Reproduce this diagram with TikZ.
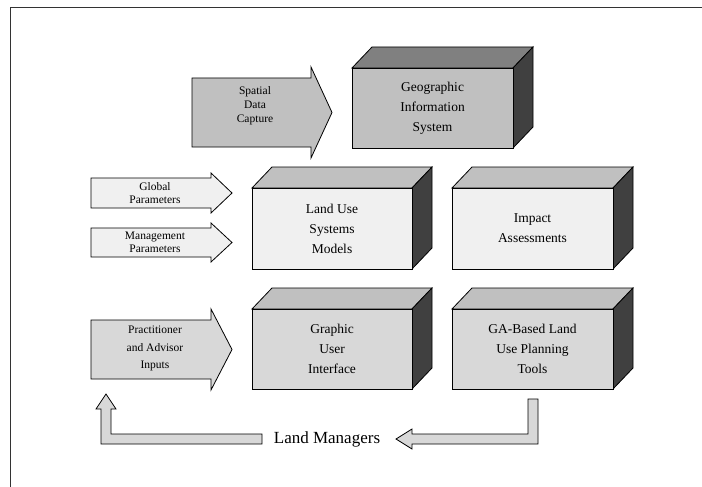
\documentclass[tikz,border=0pt]{standalone}
\usepackage{fontspec}
\setmainfont{Liberation Serif}
\definecolor{gA}{HTML}{C0C0C0}
\definecolor{gB}{HTML}{808080}
\definecolor{gC}{HTML}{404040}
\definecolor{gL}{HTML}{F0F0F0}
\definecolor{gM}{HTML}{D8D8D8}
\tikzset{
  outl/.style={draw=black, line width=0.8pt, line join=miter},
  boxtext/.style={align=center, font=\fontsize{13.5}{20}\selectfont, inner sep=0pt},
  arrtext/.style={align=center, font=\fontsize{11.5}{13.5}\selectfont, inner sep=0pt},
}
% cube: name, x1, y1, x2, y2, front, top, text
\newcommand\mycube[8]{%
  \path[outl, fill=#7] (#2,#3) -- (#2+20,#3-21) -- (#4+20,#3-21) -- (#4,#3) -- cycle;
  \path[outl, fill=gC] (#4,#3) -- (#4+20,#3-21) -- (#4+20,#5-21) -- (#4,#5) -- cycle;
  \path[outl, fill=#6] (#2,#3) rectangle (#4,#5);
  \node[boxtext] (#1) at ({(#2+#4)/2},{(#3+#5)/2}) {#8};
}
% block arrow shape: x0, ytop, ybot, xshaft, xtip, headextra, fill
\newcommand\myarrow[7]{%
  \path[outl, fill=#7] (#1,#2) -- (#4,#2) -- (#4,#2-#6) -- (#5,{(#2+#3)/2}) -- (#4,#3+#6) -- (#4,#3) -- (#1,#3) -- cycle;
}
\begin{document}
\begin{tikzpicture}[x=1pt,y=-1pt]
\useasboundingbox (0,0) rectangle (702,487);
\fill[white] (0,0) rectangle (702,487);
\draw[line width=1pt, black!80] (10,520) -- (10,8) -- (720,8);

\mycube{gis}{352}{68}{513}{148}{gA}{gB}{Geographic\\Information\\System}
\mycube{lus}{252}{188}{412}{269}{gL}{gA}{Land Use\\Systems\\Models}
\mycube{ia}{452}{188}{613}{269}{gL}{gA}{Impact\\Assessments}
\mycube{gui}{252}{309}{412}{389}{gM}{gA}{Graphic\\User\\Interface}
\mycube{ga}{452}{309}{613}{389}{gM}{gA}{GA-Based Land\\Use Planning\\Tools}

\myarrow{192}{78}{147}{311}{332}{11}{gA}
\node[arrtext, font=\fontsize{11.5}{14}\selectfont] (sdc) at (255,106) {Spatial\\Data\\Capture};
\myarrow{91}{178}{208}{211}{232}{5}{gL}
\node[arrtext] (gp) at (155,193) {Global\\Parameters};
\myarrow{91}{228}{257}{211}{232}{5}{gL}
\node[arrtext] (mp) at (155,242.5) {Management\\Parameters};
\myarrow{91}{320}{379}{211}{232}{11}{gM}
\node[arrtext, font=\fontsize{11.5}{17.5}\selectfont] (pai) at (155,348.5) {Practitioner\\and Advisor\\Inputs};

\node[font=\fontsize{17}{20}\selectfont, inner sep=0pt, anchor=base] (lm) at (327,443) {Land Managers};
\path[outl, fill=gM] (101,444) -- (101,409) -- (96,409) -- (106,394) -- (116,409) -- (111,409) -- (111,434) -- (262,434) -- (262,444) -- cycle;
\path[outl, fill=gM] (538,399) -- (538,444) -- (412,444) -- (412,449) -- (396,439) -- (412,429) -- (412,434) -- (528,434) -- (528,399) -- cycle;
\end{tikzpicture}
\end{document}
